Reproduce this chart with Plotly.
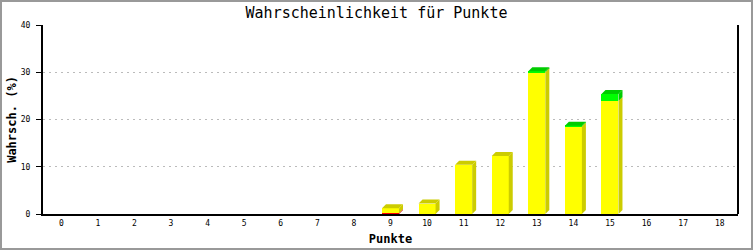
import plotly.graph_objects as go

# ---- data ----
points = list(range(19))
red_vals = [0, 0, 0, 0, 0, 0, 0, 0, 0, 0.2, 0, 0, 0, 0, 0, 0, 0, 0, 0]
yellow_vals = [0, 0, 0, 0, 0, 0, 0, 0, 0, 1.0, 2.2, 10.4, 12.3, 30.0, 18.5, 23.9, 0, 0, 0]
green_vals = [0, 0, 0, 0, 0, 0, 0, 0, 0, 0, 0, 0, 0, 0.2, 0.2, 1.5, 0, 0, 0]
tick_labels = [str(p) for p in points]

title_text = "Wahrscheinlichkeit für Punkte"
x_title = "Punkte"
y_title = "Wahrsch. (%)"

# ---- layout geometry ----
W, H = 753, 250
ML, MR, MT, MB = 43, 15, 25, 36
PW, PH = W - ML - MR, H - MT - MB
YMAX = 40
XMIN, XMAX = -0.5, 18.5
BAR_W = 0.465
px_x = PW / (XMAX - XMIN)
px_y = PH / YMAX
DX = 4 / px_x
DY = 4 / px_y

series = [
    (red_vals, "#ff0000", "#cc0000"),
    (yellow_vals, "#ffff00", "#cccc00"),
    (green_vals, "#00ff00", "#00cc00"),
]

fig = go.Figure()
for vals, front, dark in series:
    fig.add_trace(go.Bar(x=points, y=vals, width=BAR_W, marker=dict(color=front, line=dict(width=0)),
                         showlegend=False, hoverinfo="skip"))

shapes = []
for i, p in enumerate(points):
    base = 0.0
    top_dark = None
    xl, xr = p - BAR_W / 2, p + BAR_W / 2
    for vals, front, dark in series:
        v = vals[i]
        if v <= 0:
            continue
        b, t = base, base + v
        shapes.append(dict(type="path", xref="x", yref="y", layer="above", line=dict(width=0), fillcolor=dark,
                           path=f"M{xr},{b} L{xr},{t} L{xr+DX},{t+DY} L{xr+DX},{b+DY} Z"))
        base = t
        top_dark = dark
    if top_dark is not None:
        shapes.append(dict(type="path", xref="x", yref="y", layer="above", line=dict(width=0), fillcolor=top_dark,
                           path=f"M{xl},{base} L{xl+DX},{base+DY} L{xr+DX},{base+DY} L{xr},{base} Z"))

# right frame line
shapes.append(dict(type="line", xref="paper", yref="paper", x0=1, x1=1, y0=0, y1=1,
                   line=dict(color="black", width=2)))
# outer border
shapes.append(dict(type="rect", xref="paper", yref="paper",
                   x0=-(ML - 1) / PW, x1=1 + (MR - 1) / PW, y0=-(MB - 1) / PH, y1=1 + (MT - 1) / PH,
                   line=dict(color="#999999", width=2), fillcolor="rgba(0,0,0,0)", layer="below"))

mono = "DejaVu Sans Mono"
fig.update_layout(
    width=W, height=H,
    margin=dict(l=ML, r=MR, t=MT, b=MB, pad=0, autoexpand=False),
    paper_bgcolor="white", plot_bgcolor="white",
    barmode="stack", bargap=0,
    shapes=shapes,
    title=dict(text=title_text, x=0.5, xref="container", xanchor="center",
               y=1 - 13 / H, yref="container", yanchor="middle",
               font=dict(family=mono, size=15, color="black")),
    xaxis=dict(range=[XMIN, XMAX], tickmode="array", tickvals=points, ticktext=tick_labels,
               automargin=False,
               showline=True, linecolor="black", linewidth=2, ticks="", showgrid=False, zeroline=False,
               tickfont=dict(family=mono, size=8, color="black"),
               title=dict(text=f"<b>{x_title}</b>", font=dict(family=mono, size=12, color="black"), standoff=8)),
    yaxis=dict(range=[0, YMAX], tickmode="linear", tick0=0, dtick=10,
               automargin=False, ticklabelstandoff=4,
               showline=True, linecolor="black", linewidth=2, ticks="outside", ticklen=5, tickcolor="black",
               tickwidth=1, showgrid=True, gridcolor="#bbbbbb", griddash="2px,4px", gridwidth=1, zeroline=False,
               tickfont=dict(family=mono, size=8, color="black"),
               title=dict(text=f"<b>{y_title}</b>", font=dict(family=mono, size=12, color="black"), standoff=2)),
)

fig.write_html("out.html")
